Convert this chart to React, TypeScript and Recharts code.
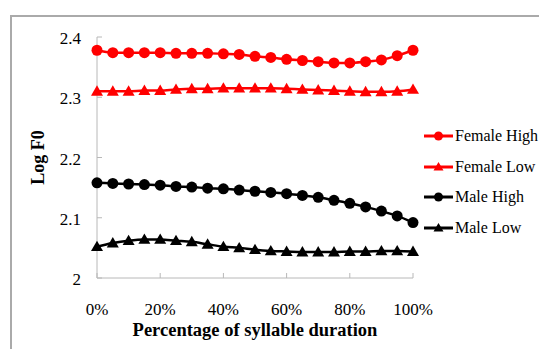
import { Legend, Line, LineChart, XAxis, YAxis } from 'recharts';

const percents = [0, 5, 10, 15, 20, 25, 30, 35, 40, 45, 50, 55, 60, 65, 70, 75, 80, 85, 90, 95, 100];
const femaleHigh = [2.378, 2.374, 2.374, 2.374, 2.374, 2.373, 2.373, 2.373, 2.372, 2.371, 2.368, 2.366, 2.363, 2.361, 2.359, 2.357, 2.357, 2.359, 2.362, 2.369, 2.378];
const femaleLow = [2.31, 2.31, 2.31, 2.311, 2.311, 2.313, 2.314, 2.314, 2.315, 2.315, 2.315, 2.315, 2.314, 2.313, 2.312, 2.311, 2.31, 2.309, 2.309, 2.31, 2.313];
const maleHigh = [2.158, 2.157, 2.156, 2.155, 2.154, 2.152, 2.151, 2.149, 2.148, 2.146, 2.144, 2.142, 2.14, 2.137, 2.134, 2.129, 2.124, 2.118, 2.111, 2.103, 2.092];
const maleLow = [2.052, 2.058, 2.062, 2.064, 2.064, 2.062, 2.06, 2.056, 2.052, 2.05, 2.047, 2.045, 2.044, 2.043, 2.043, 2.043, 2.044, 2.044, 2.045, 2.045, 2.044];
const xTicks = [0, 20, 40, 60, 80, 100];
const yTicks = [2, 2.1, 2.2, 2.3, 2.4];

const series = [
  { key: 'femaleHigh', name: 'Female High', color: '#ff0000', shape: 'circle' },
  { key: 'femaleLow', name: 'Female Low', color: '#ff0000', shape: 'triangle' },
  { key: 'maleHigh', name: 'Male High', color: '#000000', shape: 'circle' },
  { key: 'maleLow', name: 'Male Low', color: '#000000', shape: 'triangle' }
];

const FONT = '"Liberation Serif", "Times New Roman", serif';
const AXIS = '#b8b8b8';

const data = percents.map((pct, i) => ({
  pct,
  femaleHigh: femaleHigh[i],
  femaleLow: femaleLow[i],
  maleHigh: maleHigh[i],
  maleLow: maleLow[i]
}));

function Marker({ cx, cy, color, shape, r = 5.5 }: any) {
  if (shape === 'triangle') {
    return (
      <polygon
        points={`${cx},${cy - r - 0.5} ${cx - r - 0.5},${cy + r * 0.8} ${cx + r + 0.5},${cy + r * 0.8}`}
        fill={color}
      />
    );
  }
  return <circle cx={cx} cy={cy} r={r} fill={color} />;
}

function XTick({ x, y, payload }: any) {
  return (
    <g>
      <line x1={x} y1={y} x2={x} y2={y - 5} stroke={AXIS} />
      <text x={x} y={y + 37} textAnchor="middle" fontFamily={FONT} fontSize={17} fill="#000">
        {payload.value}%
      </text>
    </g>
  );
}

function YTick({ x, y, payload }: any) {
  return (
    <g>
      <line x1={x} y1={y} x2={x + 5} y2={y} stroke={AXIS} />
      <text x={x - 16} y={y + 7} textAnchor="end" fontFamily={FONT} fontSize={17} fill="#000">
        {payload.value}
      </text>
    </g>
  );
}

function renderLegend() {
  return (
    <div style={{ fontFamily: FONT, fontSize: 16, color: '#000' }}>
      {series.map((s) => (
        <div key={s.key} style={{ display: 'flex', alignItems: 'center', height: 30.5, whiteSpace: 'nowrap' }}>
          <svg width={30} height={14} style={{ marginRight: 1 }}>
            <line x1={0} y1={7} x2={29} y2={7} stroke={s.color} strokeWidth={3} />
            <Marker cx={14.5} cy={7} color={s.color} shape={s.shape} r={4.5} />
          </svg>
          <span>{s.name}</span>
        </div>
      ))}
    </div>
  );
}

export default function App() {
  return (
    <div style={{ position: 'absolute', left: 0, top: 0, width: 539, height: 349, overflow: 'hidden', background: '#fff' }}>
      <div
        style={{
          position: 'absolute',
          left: 10,
          top: 15,
          width: 540,
          height: 350,
          borderLeft: '2px solid #aaaaaa',
          borderTop: '2px solid #aaaaaa'
        }}
      />
      <div style={{ position: 'absolute', left: 0, top: 0 }}>
        <LineChart width={539} height={349} data={data} margin={{ top: 37, right: 126, left: 10, bottom: 0 }}>
          <XAxis
            dataKey="pct"
            type="number"
            domain={[0, 100]}
            ticks={xTicks}
            height={71}
            stroke={AXIS}
            tickSize={0}
            tickMargin={0}
            tick={<XTick />}
            label={{
              content: ({ viewBox }: any) => (
                <text
                  x={viewBox.x + viewBox.width / 2}
                  y={viewBox.y + 57.5}
                  textAnchor="middle"
                  fontFamily={FONT}
                  fontSize={18.5}
                  fontWeight="bold"
                  fill="#000"
                >
                  Percentage of syllable duration
                </text>
              )
            }}
          />
          <YAxis
            type="number"
            domain={[2, 2.4]}
            ticks={yTicks}
            width={87}
            stroke={AXIS}
            tickSize={0}
            tickMargin={0}
            tick={<YTick />}
            label={{
              content: ({ viewBox }: any) => {
                const cx = viewBox.x + 34;
                const cy = viewBox.y + viewBox.height / 2;
                return (
                  <text
                    x={cx}
                    y={cy}
                    transform={`rotate(-90, ${cx}, ${cy})`}
                    textAnchor="middle"
                    fontFamily={FONT}
                    fontSize={18}
                    fontWeight="bold"
                    fill="#000"
                  >
                    Log F0
                  </text>
                );
              }
            }}
          />
          {series.map((s) => (
            <Line
              key={s.key}
              dataKey={s.key}
              name={s.name}
              type="monotone"
              stroke={s.color}
              strokeWidth={2.5}
              isAnimationActive={false}
              dot={(p: any) => <Marker key={`${s.key}-${p.index}`} cx={p.cx} cy={p.cy} color={s.color} shape={s.shape} />}
              activeDot={false}
            />
          ))}
          <Legend
            layout="vertical"
            align="center"
            verticalAlign="middle"
            content={renderLegend}
            wrapperStyle={{ left: 424, top: 121, width: 120 }}
          />
        </LineChart>
      </div>
    </div>
  );
}
